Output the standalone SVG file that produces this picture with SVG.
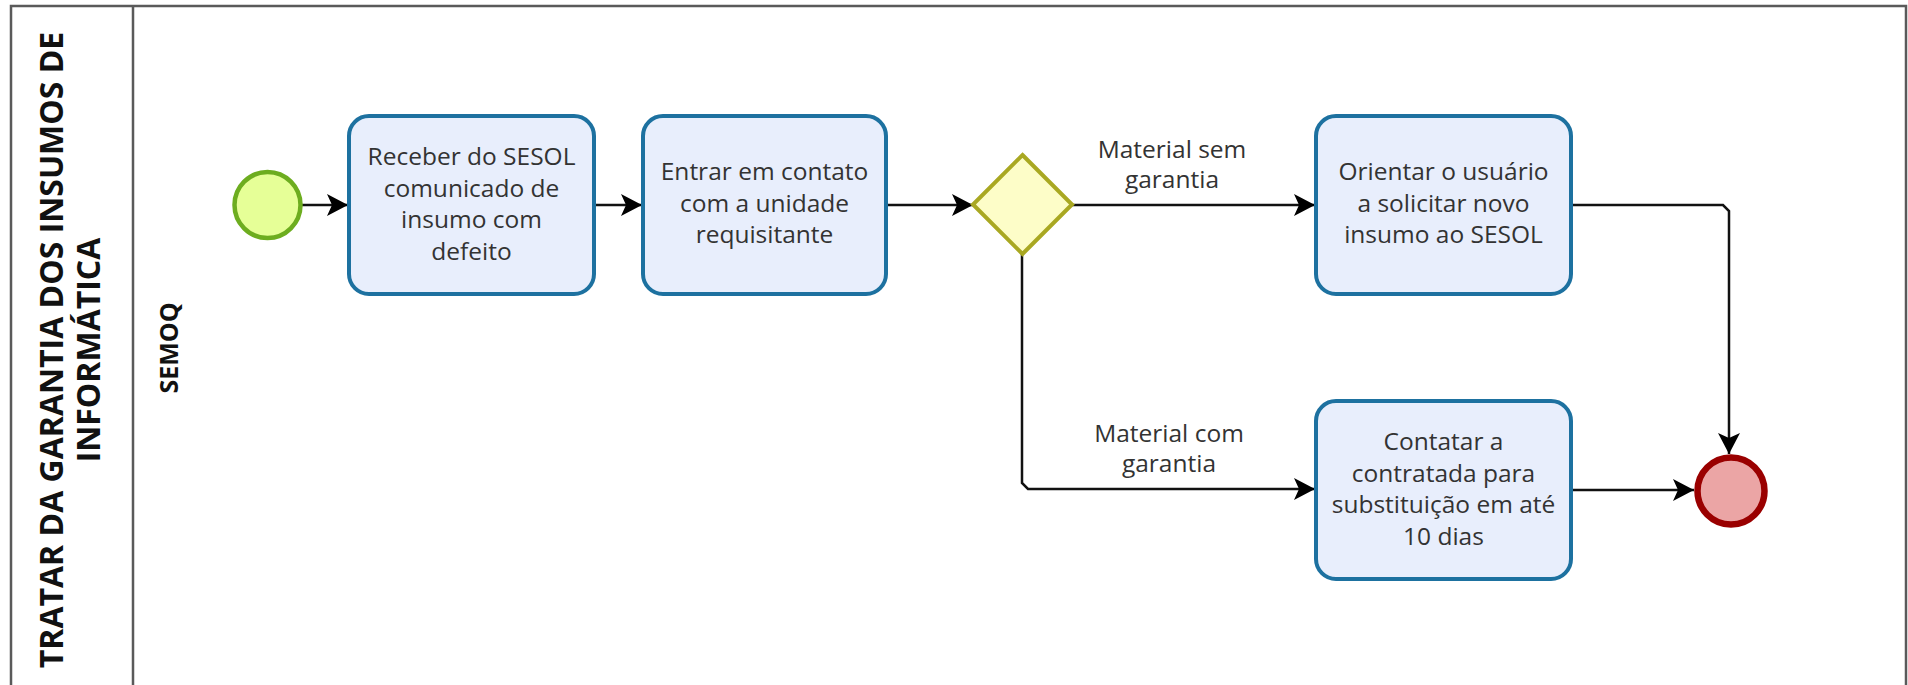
<svg xmlns="http://www.w3.org/2000/svg" width="1908" height="685" viewBox="0 0 1908 685">
<style>
.pool{fill:#fff;stroke:#5a5a5a;stroke-width:2.5}
.task{fill:#e8eefc;stroke:#1d71a0;stroke-width:4}
.t{font-family:"Open Sans","Noto Sans","DejaVu Sans",sans-serif;font-size:24.5px;fill:#333;text-anchor:middle}
.lbl{font-family:"Open Sans","Noto Sans","DejaVu Sans",sans-serif;font-size:24.5px;fill:#333;text-anchor:middle}
.hdr{font-family:"Open Sans","Noto Sans","DejaVu Sans",sans-serif;font-weight:bold;fill:#111;text-anchor:middle}
.flow{fill:none;stroke:#111;stroke-width:2.5;marker-end:url(#arr)}
</style>
<defs>
<marker id="arr" markerUnits="userSpaceOnUse" markerWidth="24" markerHeight="26" refX="22" refY="12" orient="auto">
<path d="M22,12 L1,1 L6,12 L1,23 Z" fill="#000"/>
</marker>
</defs>
<rect width="1908" height="685" fill="#fff"/>
<g id="pool">
<rect class="pool" x="11" y="6" width="1895" height="700"/>
<line x1="133" y1="6" x2="133" y2="685" stroke="#5a5a5a" stroke-width="2.5"/>
<text class="hdr" font-size="32" transform="translate(63,350) rotate(-90)">TRATAR DA GARANTIA DOS INSUMOS DE</text>
<text class="hdr" font-size="32" transform="translate(100,350) rotate(-90)">INFORMÁTICA</text>
</g>
<g id="lane-semoq">
<text class="hdr" font-size="25" transform="translate(178,348) rotate(-90)">SEMOQ</text>
</g>
<g id="connectors">
<path class="flow" d="M301,205 H348"/>
<path class="flow" d="M595,205 H642"/>
<path class="flow" d="M886,205 H973"/>
<path class="flow" d="M1072,205 H1315"/>
<path class="flow" d="M1022,254 V483 L1028,489 H1315"/>
<path class="flow" d="M1572,205 H1723 L1729,211 V454"/>
<path class="flow" d="M1572,490 H1694"/>
<text class="lbl" x="1172" y="158">Material sem</text>
<text class="lbl" x="1172" y="188">garantia</text>
<text class="lbl" x="1169" y="442">Material com</text>
<text class="lbl" x="1169" y="472">garantia</text>
</g>
<g id="start">
<circle cx="267.5" cy="205" r="33" fill="#e6ff97" stroke="#6dad1f" stroke-width="4.5"/>
</g>
<g id="task1">
<rect class="task" x="349" y="116" width="245" height="178" rx="20"/>
<text class="t" x="471.5" y="165">Receber do SESOL</text>
<text class="t" x="471.5" y="196.5">comunicado de</text>
<text class="t" x="471.5" y="228">insumo com</text>
<text class="t" x="471.5" y="259.5">defeito</text>
</g>
<g id="task2">
<rect class="task" x="643" y="116" width="243" height="178" rx="20"/>
<text class="t" x="764.5" y="180">Entrar em contato</text>
<text class="t" x="764.5" y="211.5">com a unidade</text>
<text class="t" x="764.5" y="243">requisitante</text>
</g>
<g id="gateway">
<path d="M1022.5,155 L1072,204.5 L1022.5,254 L973,204.5 Z" fill="#fdfdc8" stroke="#a9a822" stroke-width="4"/>
</g>
<g id="task3">
<rect class="task" x="1316" y="116" width="255" height="178" rx="20"/>
<text class="t" x="1443.5" y="180">Orientar o usuário</text>
<text class="t" x="1443.5" y="211.5">a solicitar novo</text>
<text class="t" x="1443.5" y="243">insumo ao SESOL</text>
</g>
<g id="task4">
<rect class="task" x="1316" y="401" width="255" height="178" rx="20"/>
<text class="t" x="1443.5" y="450">Contatar a</text>
<text class="t" x="1443.5" y="481.5">contratada para</text>
<text class="t" x="1443.5" y="513">substituição em até</text>
<text class="t" x="1443.5" y="544.5">10 dias</text>
</g>
<g id="end">
<circle cx="1731" cy="491" r="33.5" fill="#eba5a5" stroke="#9a0000" stroke-width="6.5"/>
</g>
</svg>
